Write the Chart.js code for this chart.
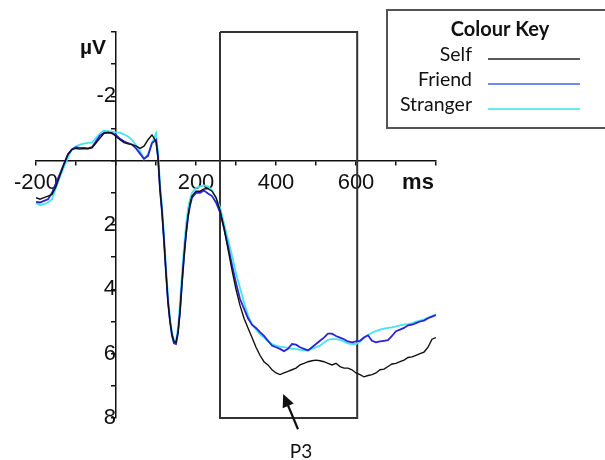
<!DOCTYPE html>
<html>
<head>
<meta charset="utf-8">
<script src="https://cdn.jsdelivr.net/npm/chart.js@4.4.1/dist/chart.umd.min.js"></script>
<style>
  html, body { margin: 0; padding: 0; background: #fff; }
  #wrap { width: 605px; height: 460px; }
</style>
</head>
<body>
<div id="wrap"><canvas id="erpChart" width="605" height="460"></canvas></div>
<script>
// sample times (ms) shared by the three waveforms
const times = [-200,-190,-180,-170,-160,-150,-140,-130,-120,-110,-100,-90,-80,-70,-60,-50,-40,-30,-20,-10,
  0,10,20,30,40,50,60,70,80,90,100,105,110,115,120,125,130,135,140,145,150,155,160,165,170,175,180,185,190,
  200,210,220,230,240,250,260,270,280,290,300,310,320,330,340,350,360,370,380,390,400,410,420,430,440,450,
  460,470,480,490,500,510,520,530,540,550,560,570,580,590,600,610,620,630,640,650,660,670,680,690,700,
  710,720,730,740,750,760,770,780,790,800];

const selfUv = [1.15,1.2,1.15,1.1,1.05,0.8,0.45,0.1,-0.2,-0.35,-0.38,-0.36,-0.38,-0.37,-0.4,-0.55,-0.7,-0.85,-0.88,-0.86,
  -0.75,-0.65,-0.56,-0.52,-0.5,-0.46,-0.38,-0.45,-0.65,-0.8,-0.6,-0.1,0.9,1.6,2.5,3.5,4.4,5.0,5.4,5.62,5.65,5.35,4.7,3.8,3.0,2.3,1.75,1.35,1.1,
  0.95,0.95,0.88,0.87,0.95,1.15,1.55,2.1,2.75,3.4,4.0,4.5,4.9,5.2,5.5,5.8,6.05,6.25,6.35,6.5,6.6,6.65,6.6,6.55,6.5,6.45,
  6.35,6.3,6.25,6.22,6.2,6.22,6.25,6.3,6.35,6.3,6.4,6.45,6.45,6.5,6.6,6.65,6.72,6.68,6.65,6.6,6.5,6.48,6.4,6.32,6.3,
  6.25,6.2,6.12,6.1,6.05,6.0,5.95,5.8,5.55,5.5];

const friendUv = [1.28,1.3,1.25,1.2,1.0,0.7,0.4,0.1,-0.2,-0.35,-0.42,-0.4,-0.4,-0.38,-0.42,-0.6,-0.78,-0.86,-0.87,-0.85,
  -0.8,-0.68,-0.6,-0.55,-0.5,-0.38,-0.22,-0.06,-0.15,-0.55,-0.65,-0.1,0.9,1.6,2.5,3.5,4.4,5.0,5.45,5.68,5.7,5.35,4.7,3.8,3.0,2.3,1.75,1.4,1.15,
  1.0,1.0,0.93,1.02,1.1,1.3,1.6,2.1,2.65,3.25,3.8,4.3,4.6,4.9,5.1,5.2,5.33,5.45,5.6,5.75,5.8,5.85,5.92,5.85,5.7,5.72,
  5.8,5.85,5.9,5.8,5.7,5.6,5.5,5.38,5.38,5.45,5.5,5.55,5.62,5.65,5.62,5.6,5.5,5.43,5.6,5.65,5.62,5.6,5.58,5.45,5.3,
  5.25,5.2,5.12,5.1,5.05,5.0,4.97,4.9,4.85,4.8];

const strangerUv = [1.32,1.38,1.35,1.3,1.2,0.85,0.5,0.2,-0.1,-0.35,-0.45,-0.5,-0.53,-0.55,-0.57,-0.7,-0.85,-0.93,-0.92,-0.9,
  -0.88,-0.87,-0.82,-0.75,-0.65,-0.48,-0.3,-0.05,-0.2,-0.55,-0.85,-0.3,0.7,1.4,2.3,3.3,4.2,4.9,5.35,5.58,5.6,5.2,4.4,3.5,2.7,2.0,1.5,1.2,1.0,
  0.85,0.8,0.77,0.8,0.92,1.15,1.45,1.95,2.45,2.95,3.5,3.95,4.4,4.8,5.1,5.25,5.4,5.5,5.62,5.7,5.75,5.78,5.8,5.82,5.85,5.85,
  5.88,5.9,5.9,5.85,5.8,5.75,5.65,5.57,5.55,5.55,5.57,5.62,5.68,5.7,5.7,5.62,5.5,5.42,5.35,5.3,5.25,5.22,5.2,5.18,5.15,
  5.12,5.1,5.08,5.05,5.0,4.97,4.93,4.88,4.83,4.78];

const seriesNames = ['Self', 'Friend', 'Stranger'];
const seriesColors = ['#111111', '#2b22d8', '#45e4ee'];
const keyColors = ['#222222', '#3f63ec', '#30e8e4'];

// analysis window (ms, µV) and tick labels
const windowMs = [260, 603];
const windowUv = [-4, 8];
const xLabels = [-200, 200, 400, 600];
const yLabels = [-2, 2, 4, 6, 8];
const p3Arrow = { fromMs: 455, fromUv: 8.35, toMs: 418, toUv: 7.25 };

const toPoints = arr => times.map((t, i) => ({ x: t, y: arr[i] }));

const boxPoints = [
  { x: windowMs[0], y: windowUv[0] }, { x: windowMs[0], y: windowUv[1] },
  { x: windowMs[1], y: windowUv[1] }, { x: windowMs[1], y: windowUv[0] },
  { x: windowMs[0], y: windowUv[0] }
];

const extras = {
  id: 'extras',
  afterDraw(chart) {
    const ctx = chart.ctx;
    const xs = chart.scales.x, ys = chart.scales.y;
    ctx.save();

    // unit labels
    ctx.fillStyle = '#111';
    ctx.textAlign = 'center';
    ctx.textBaseline = 'middle';
    ctx.font = 'bold 21px "Liberation Sans"';
    ctx.fillText('µV', 93, 48);
    ctx.font = 'bold 22px "Liberation Sans"';
    ctx.fillText('ms', 418, 183);

    // P3 arrow
    const x1 = xs.getPixelForValue(p3Arrow.fromMs), y1 = ys.getPixelForValue(p3Arrow.fromUv);
    const x2 = xs.getPixelForValue(p3Arrow.toMs), y2 = ys.getPixelForValue(p3Arrow.toUv);
    const ang = Math.atan2(y2 - y1, x2 - x1);
    ctx.strokeStyle = '#111';
    ctx.lineWidth = 2.2;
    ctx.beginPath();
    ctx.moveTo(x1, y1);
    ctx.lineTo(x2 - 8 * Math.cos(ang), y2 - 8 * Math.sin(ang));
    ctx.stroke();
    ctx.beginPath();
    ctx.moveTo(x2, y2);
    ctx.lineTo(x2 - 13 * Math.cos(ang) + 6 * Math.sin(ang), y2 - 13 * Math.sin(ang) - 6 * Math.cos(ang));
    ctx.lineTo(x2 - 13 * Math.cos(ang) - 6 * Math.sin(ang), y2 - 13 * Math.sin(ang) + 6 * Math.cos(ang));
    ctx.closePath();
    ctx.fill();
    ctx.font = '19px Lato';
    ctx.fillText('P3', x1 + 3, y1 + 23);

    // colour key box
    ctx.strokeStyle = '#555';
    ctx.lineWidth = 2;
    ctx.strokeRect(387, 10, 240, 118);
    ctx.font = 'bold 20px Lato';
    ctx.fillText('Colour Key', 500, 30);
    ctx.font = '19.5px Lato';
    ctx.textAlign = 'right';
    chart.data.datasets.slice(0, 3).forEach((ds, i) => {
      const y = 55 + i * 25;
      ctx.fillStyle = '#111';
      ctx.fillText(ds.label, 472, y);
      ctx.strokeStyle = keyColors[i];
      ctx.lineWidth = 1.5;
      ctx.beginPath();
      ctx.moveTo(488, y + 4);
      ctx.lineTo(580, y + 4);
      ctx.stroke();
    });
    ctx.restore();
  }
};

const tickFont = { family: 'Liberation Sans', size: 22 };

new Chart(document.getElementById('erpChart'), {
  type: 'line',
  data: {
    datasets: [
      { label: seriesNames[0], data: toPoints(selfUv), borderColor: seriesColors[0], borderWidth: 1.4 },
      { label: seriesNames[1], data: toPoints(friendUv), borderColor: seriesColors[1], borderWidth: 1.8 },
      { label: seriesNames[2], data: toPoints(strangerUv), borderColor: seriesColors[2], borderWidth: 1.8 },
      { label: 'window', data: boxPoints, borderColor: '#333', borderWidth: 2, clip: false }
    ]
  },
  options: {
    responsive: false,
    animation: false,
    layout: { padding: { left: 36, right: 169, top: 32, bottom: 42 } },
    elements: { point: { radius: 0 }, line: { tension: 0 } },
    plugins: { legend: { display: false }, tooltip: { enabled: false } },
    scales: {
      x: {
        type: 'linear', min: -200, max: 800, position: { y: 0 },
        border: { color: '#111', width: 1.5 },
        grid: { drawOnChartArea: false, drawTicks: true, tickLength: 4, color: '#111', lineWidth: 1.5 },
        ticks: {
          stepSize: 100, autoSkip: false, maxRotation: 0, padding: 5, color: '#111', font: tickFont,
          callback: v => xLabels.includes(v) ? String(v) : ''
        }
      },
      y: {
        type: 'linear', min: -4, max: 8, reverse: true, position: { x: 0 },
        border: { color: '#111', width: 1.5 },
        grid: { drawOnChartArea: false, drawTicks: true, tickLength: 4, color: '#111', lineWidth: 1.5 },
        ticks: {
          stepSize: 1, autoSkip: false, padding: 3, color: '#111', font: tickFont,
          callback: v => yLabels.includes(v) ? String(v) : ''
        }
      }
    }
  },
  plugins: [extras]
});
</script>
</body>
</html>
